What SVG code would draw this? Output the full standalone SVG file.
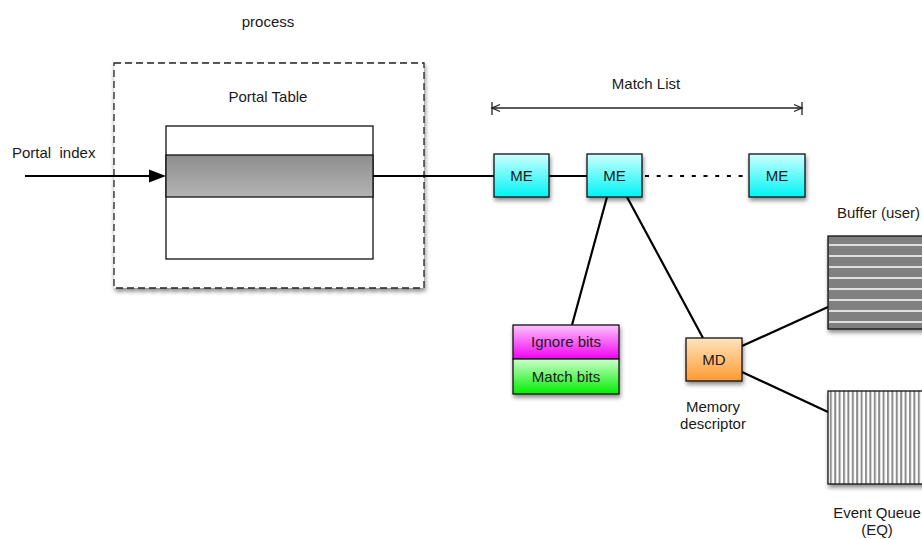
<svg xmlns="http://www.w3.org/2000/svg" width="922" height="539" viewBox="0 0 922 539">
<style>
text{font-family:"Liberation Sans",Arial,Helvetica,sans-serif;font-size:15px;fill:#1a1a1a}
.mid{text-anchor:middle}
.box{stroke:#111;stroke-width:1.3}
.conn{stroke:#000;stroke-width:2.2;fill:none}
</style>
<defs>
<filter id="sh" x="-20%" y="-20%" width="150%" height="160%">
<feDropShadow dx="1" dy="3" stdDeviation="2" flood-color="#000" flood-opacity="0.45"/>
</filter>
<linearGradient id="gMe" x1="0" y1="0" x2="0" y2="1"><stop offset="0" stop-color="#ccffff"/><stop offset="1" stop-color="#00f4f4"/></linearGradient>
<linearGradient id="gIg" x1="0" y1="0" x2="0" y2="1"><stop offset="0" stop-color="#ffc4ff"/><stop offset="1" stop-color="#f000f0"/></linearGradient>
<linearGradient id="gMa" x1="0" y1="0" x2="0" y2="1"><stop offset="0" stop-color="#ccffcc"/><stop offset="1" stop-color="#00ee00"/></linearGradient>
<linearGradient id="gMd" x1="0" y1="0" x2="0" y2="1"><stop offset="0" stop-color="#ffe4c0"/><stop offset="1" stop-color="#ff9a30"/></linearGradient>
<linearGradient id="gBand" x1="0" y1="0" x2="0" y2="1"><stop offset="0" stop-color="#8e8e8e"/><stop offset="1" stop-color="#b4b4b4"/></linearGradient>
<pattern id="pEq" x="828" y="0" width="4.4" height="10" patternUnits="userSpaceOnUse">
<rect width="4.4" height="10" fill="#fff"/><rect x="1.8" width="2" height="10" fill="#8a8a8a"/>
</pattern>
</defs>
<rect width="922" height="539" fill="#fff"/>

<text class="mid" x="268" y="27">process</text>

<g id="process">
<rect x="114" y="63" width="310" height="225" fill="#fff" stroke="#222" stroke-width="1.3" stroke-dasharray="7,4" filter="url(#sh)"/>
<text class="mid" x="268" y="102">Portal Table</text>
</g>

<g id="portal-table">
<rect class="box" x="166" y="126" width="207" height="133" fill="#fff"/>
<rect class="box" x="166" y="155" width="207" height="42" fill="url(#gBand)"/>
</g>

<text x="12" y="158" xml:space="preserve">Portal  index</text>

<g id="match-list-dim" stroke="#222" stroke-width="1.3" fill="none">
<line x1="492" y1="108" x2="802" y2="108"/>
<line x1="492" y1="102" x2="492" y2="115"/>
<line x1="802" y1="102" x2="802" y2="115"/>
<polyline points="500,104.5 492,108 500,111.5"/>
<polyline points="794,104.5 802,108 794,111.5"/>
</g>
<text class="mid" x="646" y="89">Match List</text>

<g id="connectors">
<line class="conn" x1="25" y1="176" x2="152" y2="176"/>
<polygon points="149,169.5 166,176 149,182.5" fill="#000"/>
<line class="conn" x1="373" y1="176" x2="494" y2="176"/>
<line class="conn" x1="549" y1="176" x2="587" y2="176"/>
<line class="conn" x1="645" y1="176" x2="749" y2="176" stroke-dasharray="4,7.7" stroke-width="2.5"/>
<line class="conn" x1="607" y1="197" x2="572" y2="325"/>
<line class="conn" x1="627" y1="197" x2="703" y2="338"/>
<line class="conn" x1="742" y1="346" x2="828" y2="307"/>
<line class="conn" x1="742" y1="372" x2="828" y2="412"/>
</g>

<g id="me1">
<rect class="box" x="494" y="154" width="55" height="43" fill="url(#gMe)" filter="url(#sh)"/>
<text class="mid" x="521.5" y="181">ME</text>
</g>
<g id="me2">
<rect class="box" x="587" y="154" width="55" height="43" fill="url(#gMe)" filter="url(#sh)"/>
<text class="mid" x="614.5" y="181">ME</text>
</g>
<g id="me3">
<rect class="box" x="749" y="154" width="56" height="43" fill="url(#gMe)" filter="url(#sh)"/>
<text class="mid" x="777" y="181">ME</text>
</g>

<g id="bits">
<g filter="url(#sh)">
<rect class="box" x="513" y="325" width="106" height="34" fill="url(#gIg)"/>
<rect class="box" x="513" y="359" width="106" height="35" fill="url(#gMa)"/>
</g>
<text class="mid" x="566" y="347">Ignore bits</text>
<text class="mid" x="566" y="382">Match bits</text>
</g>

<g id="md">
<rect class="box" x="686" y="338" width="56" height="43" fill="url(#gMd)" filter="url(#sh)"/>
<text class="mid" x="714" y="365">MD</text>
<text class="mid" x="713" y="412">Memory</text>
<text class="mid" x="713" y="429">descriptor</text>
</g>

<g id="buffer">
<text x="837" y="218">Buffer (user)</text>
<rect class="box" x="828" y="236" width="100" height="93" fill="#808080" filter="url(#sh)"/>
<g stroke="#fff" stroke-width="1.5">
<line x1="829" y1="245" x2="922" y2="245"/>
<line x1="829" y1="256" x2="922" y2="256"/>
<line x1="829" y1="267" x2="922" y2="267"/>
<line x1="829" y1="278" x2="922" y2="278"/>
<line x1="829" y1="289" x2="922" y2="289"/>
<line x1="829" y1="300" x2="922" y2="300"/>
<line x1="829" y1="311" x2="922" y2="311"/>
<line x1="829" y1="322" x2="922" y2="322"/>
</g>
</g>

<g id="event-queue">
<rect class="box" x="828" y="391" width="100" height="93" fill="url(#pEq)" filter="url(#sh)"/>
<text class="mid" x="877" y="518">Event Queue</text>
<text class="mid" x="877" y="535">(EQ)</text>
</g>
</svg>
